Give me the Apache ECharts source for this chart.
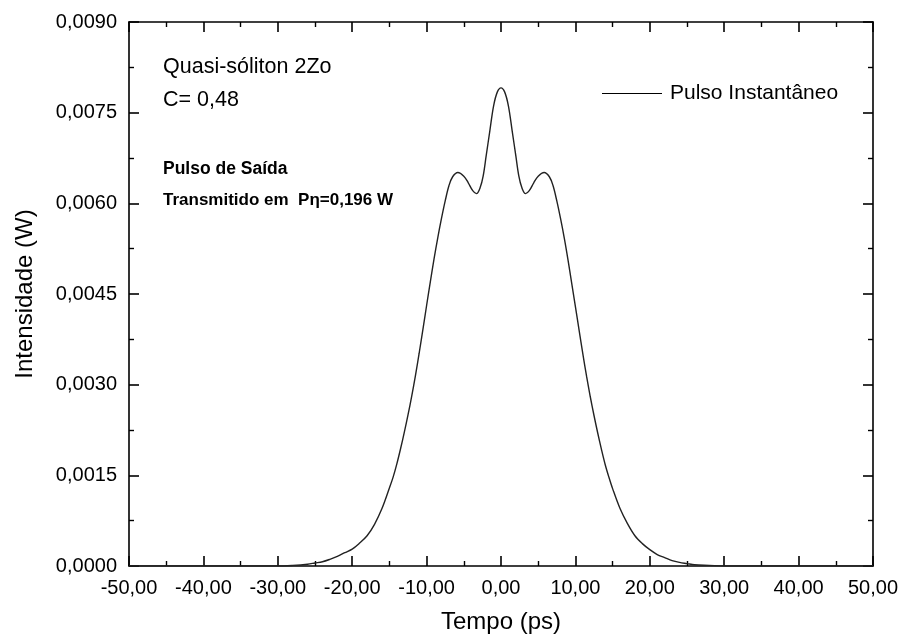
<!DOCTYPE html>
<html>
<head>
<meta charset="utf-8">
<script src="https://cdn.jsdelivr.net/npm/echarts@6/dist/echarts.min.js"></script>
<style>
html,body{margin:0;padding:0;background:#fff;}
#chart{width:903px;height:639px;}
</style>
</head>
<body>
<div id="chart"></div>
<script>
// Time (ps)
const timePs = [-50,-40,-35,-30,-28,-26,-25,-24,-23,-22,-21,-20,-19,-18,-17,-16,-15,-14.5,-14,-13.5,-13,-12.5,-12,-11.5,-11,-10.5,-10,-9.5,-9,-8.5,-8,-7.5,-7,-6.5,-5.8,-5,-4.4,-3.8,-3.3,-2.8,-2.4,-2,-1.5,-1,-0.5,0,
  0.5,1,1.5,2,2.4,2.8,3.3,3.8,4.4,5,5.8,6.5,7,7.5,8,8.5,9,9.5,10,10.5,11,11.5,12,12.5,13,13.5,14,14.5,15,16,17,18,19,20,21,22,23,24,25,26,28,30,35,40,50];
// Intensity (W)
const intensityW = [0,0,0,0,0.00001,0.00003,0.00005,0.00007,0.00011,0.00016,0.00022,0.00028,0.00038,0.00050,0.00069,0.00095,0.00129,0.00147,0.00169,0.00194,0.00221,0.00250,0.00281,0.00315,0.00352,0.00391,0.00431,0.00470,0.00508,0.00543,0.00575,0.00604,0.00629,0.00644,0.00651,0.00645,0.00634,0.00621,0.00616,0.00626,0.00645,0.00678,0.00720,0.00761,0.00784,0.00791,
  0.00784,0.00761,0.00720,0.00678,0.00645,0.00626,0.00616,0.00621,0.00634,0.00645,0.00651,0.00644,0.00629,0.00604,0.00575,0.00543,0.00507,0.00468,0.00429,0.00390,0.00351,0.00314,0.00280,0.00249,0.00220,0.00193,0.00168,0.00147,0.00128,0.00095,0.00070,0.00050,0.00037,0.00027,0.00019,0.00014,0.00009,0.00006,0.00004,0.00002,0.00001,0,0,0,0];
const seriesName = 'Pulso Instantâneo';
const xTitle = 'Tempo (ps)';
const yTitle = 'Intensidade (W)';
const notes = ['Quasi-sóliton 2Zo', 'C= 0,48', 'Pulso de Saída', 'Transmitido em  Pη=0,196 W'];

const FONT = 'Liberation Sans, Arial, sans-serif';
const chart = echarts.init(document.getElementById('chart'), null, {renderer: 'canvas'});
const axisLine = {show: true, onZero: false, lineStyle: {color: '#000', width: 1.6}};
const tick = {show: true, inside: true, length: 10, lineStyle: {color: '#000', width: 1.6}};
const minor = {show: true, splitNumber: 2, length: 5, lineStyle: {color: '#000', width: 1.4}};
const xCommon = {type: 'value', min: -50, max: 50, interval: 10, axisLine, axisTick: tick, minorTick: minor, splitLine: {show: false}};
const yCommon = {type: 'value', min: 0, max: 0.009, interval: 0.0015, axisLine, axisTick: tick, minorTick: minor, splitLine: {show: false}};

chart.setOption({
  backgroundColor: '#fff',
  animation: false,
  grid: {left: 129, right: 30, top: 22, bottom: 69, containLabel: false},
  xAxis: [
    Object.assign({}, xCommon, {
      position: 'bottom',
      name: xTitle, nameLocation: 'middle', nameGap: 44,
      nameTextStyle: {fontFamily: FONT, fontSize: 24, color: '#000'},
      axisLabel: {show: true, margin: 12, fontFamily: FONT, fontSize: 20, color: '#000',
        formatter: v => v.toFixed(2).replace('.', ',')}
    }),
    Object.assign({}, xCommon, {position: 'top', axisLabel: {show: false}})
  ],
  yAxis: [
    Object.assign({}, yCommon, {
      position: 'left',
      name: yTitle, nameLocation: 'middle', nameGap: 92, nameRotate: 90,
      nameTextStyle: {fontFamily: FONT, fontSize: 24, color: '#000'},
      axisLabel: {show: true, margin: 12, fontFamily: FONT, fontSize: 20, color: '#000',
        formatter: v => v.toFixed(4).replace('.', ',')}
    }),
    Object.assign({}, yCommon, {position: 'right', axisLabel: {show: false}})
  ],
  legend: {
    show: true, left: 597, top: 78, itemWidth: 60, itemHeight: 14, itemGap: 8,
    icon: 'path://M0,10 L100,10 L100,11.5 L0,11.5 Z',
    textStyle: {fontFamily: FONT, fontSize: 21, color: '#000', padding: [0,0,0,3]},
    data: [{name: seriesName, itemStyle: {color: '#000'}}]
  },
  graphic: [
    {type: 'text', left: 163, top: 56, style: {text: notes[0], font: '21.5px ' + FONT, fill: '#000'}},
    {type: 'text', left: 163, top: 89, style: {text: notes[1], font: '21.5px ' + FONT, fill: '#000'}},
    {type: 'text', left: 163, top: 160, style: {text: notes[2], font: 'bold 17.5px ' + FONT, fill: '#000'}},
    {type: 'text', left: 163, top: 192, style: {text: notes[3], font: 'bold 17px ' + FONT, fill: '#000'}}
  ],
  series: [{
    name: seriesName, type: 'line', xAxisIndex: 0, yAxisIndex: 0,
    data: timePs.map((t, i) => [t, intensityW[i]]),
    smooth: 0.35, showSymbol: false, symbol: 'none',
    lineStyle: {color: '#222', width: 1.4}, itemStyle: {color: '#000'}
  }]
});
</script>
</body>
</html>
